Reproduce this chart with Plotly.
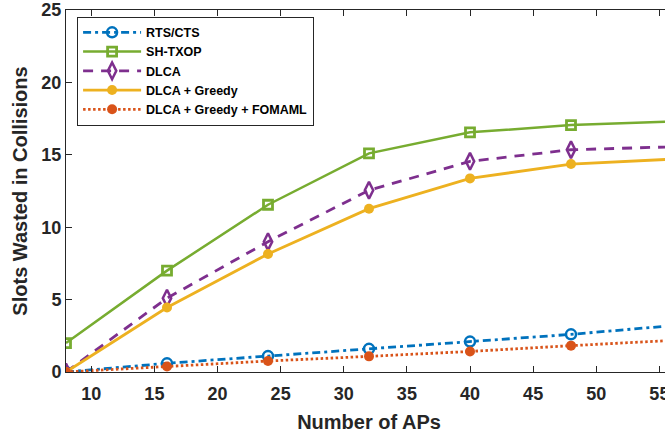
import plotly.graph_objects as go

aps = [8, 16, 24, 32, 40, 48, 56]
rts_cts = [0, 0.6, 1.1, 1.6, 2.1, 2.6, 3.2]
sh_txop = [2.0, 7.0, 11.55, 15.1, 16.55, 17.05, 17.3]
dlca = [0, 5.1, 9.0, 12.55, 14.55, 15.35, 15.55]
dlca_greedy = [0, 4.45, 8.15, 11.28, 13.37, 14.36, 14.7]
dlca_greedy_fomaml = [0, 0.38, 0.76, 1.08, 1.42, 1.82, 2.18]

series_names = ["RTS/CTS", "SH-TXOP", "DLCA", "DLCA + Greedy", "DLCA + Greedy + FOMAML"]
x_ticks = [10, 15, 20, 25, 30, 35, 40, 45, 50, 55]
y_ticks = [0, 5, 10, 15, 20, 25]

AX = "#262626"
FONT = "Liberation Sans, Arial, sans-serif"

fig = go.Figure()
fig.add_trace(go.Scatter(
    x=aps, y=rts_cts, name=series_names[0], mode="lines+markers",
    line=dict(color="#0072BD", width=2.8, dash="8px,4px,3px,4px"),
    marker=dict(symbol="circle-open", size=10, color="#0072BD", line=dict(width=2.5, color="#0072BD"))))
fig.add_trace(go.Scatter(
    x=aps, y=sh_txop, name=series_names[1], mode="lines+markers",
    line=dict(color="#77AC30", width=2.5),
    marker=dict(symbol="square-open", size=9, color="#77AC30", line=dict(width=2.8, color="#77AC30"))))
fig.add_trace(go.Scatter(
    x=aps, y=dlca, name=series_names[2], mode="lines+markers",
    line=dict(color="#7E2F8E", width=2.8, dash="10px,8px"),
    marker=dict(symbol="diamond-tall-open", size=12, color="#7E2F8E", line=dict(width=2.5, color="#7E2F8E"))))
fig.add_trace(go.Scatter(
    x=aps, y=dlca_greedy, name=series_names[3], mode="lines+markers",
    line=dict(color="#EDB120", width=2.8),
    marker=dict(symbol="circle", size=10, color="#EDB120")))
fig.add_trace(go.Scatter(
    x=aps, y=dlca_greedy_fomaml, name=series_names[4], mode="lines+markers",
    line=dict(color="#D95319", width=2.8, dash="2.5px,2.5px"),
    marker=dict(symbol="circle", size=10, color="#D95319")))

# Figure is a little wider than the window: the reference crops the right edge of the axes.
fig.update_layout(
    template="none",
    width=672, height=434,
    margin=dict(l=66, r=0, t=10, b=62, autoexpand=False),
    plot_bgcolor="white", paper_bgcolor="white",
    font=dict(family=FONT, color=AX),
    showlegend=True,
    legend=dict(
        x=0.0183, y=0.9815, xanchor="left", yanchor="top",
        bgcolor="white", bordercolor=AX, borderwidth=1,
        font=dict(family=FONT, size=12.5, color="black", weight="bold"),
        tracegroupgap=0, itemwidth=58,
    ),
    xaxis=dict(
        range=[8, 56], tickvals=x_ticks, ticktext=[str(v) for v in x_ticks],
        automargin=False,
        showline=True, linecolor=AX, linewidth=1, mirror="ticks",
        ticks="inside", ticklen=6, tickwidth=1, tickcolor=AX,
        showgrid=False, zeroline=False, ticklabelstandoff=5,
        tickfont=dict(family=FONT, size=18, color=AX, weight="bold"),
        title=dict(text="Number of APs", font=dict(family=FONT, size=20, color=AX, weight="bold"), standoff=12),
    ),
    yaxis=dict(
        range=[0, 25], tickvals=y_ticks, ticktext=[str(v) for v in y_ticks],
        automargin=False,
        showline=True, linecolor=AX, linewidth=1, mirror="ticks",
        ticks="inside", ticklen=6, tickwidth=1, tickcolor=AX,
        showgrid=False, zeroline=False,
        tickfont=dict(family=FONT, size=18, color=AX, weight="bold"),
        title=dict(text="Slots Wasted in Collisions", font=dict(family=FONT, size=20, color=AX, weight="bold"), standoff=8),
    ),
)

fig.write_html(
    "out.html",
    config={"displayModeBar": False},
    post_script="document.body.style.margin='0';document.body.style.overflow='hidden';",
)
